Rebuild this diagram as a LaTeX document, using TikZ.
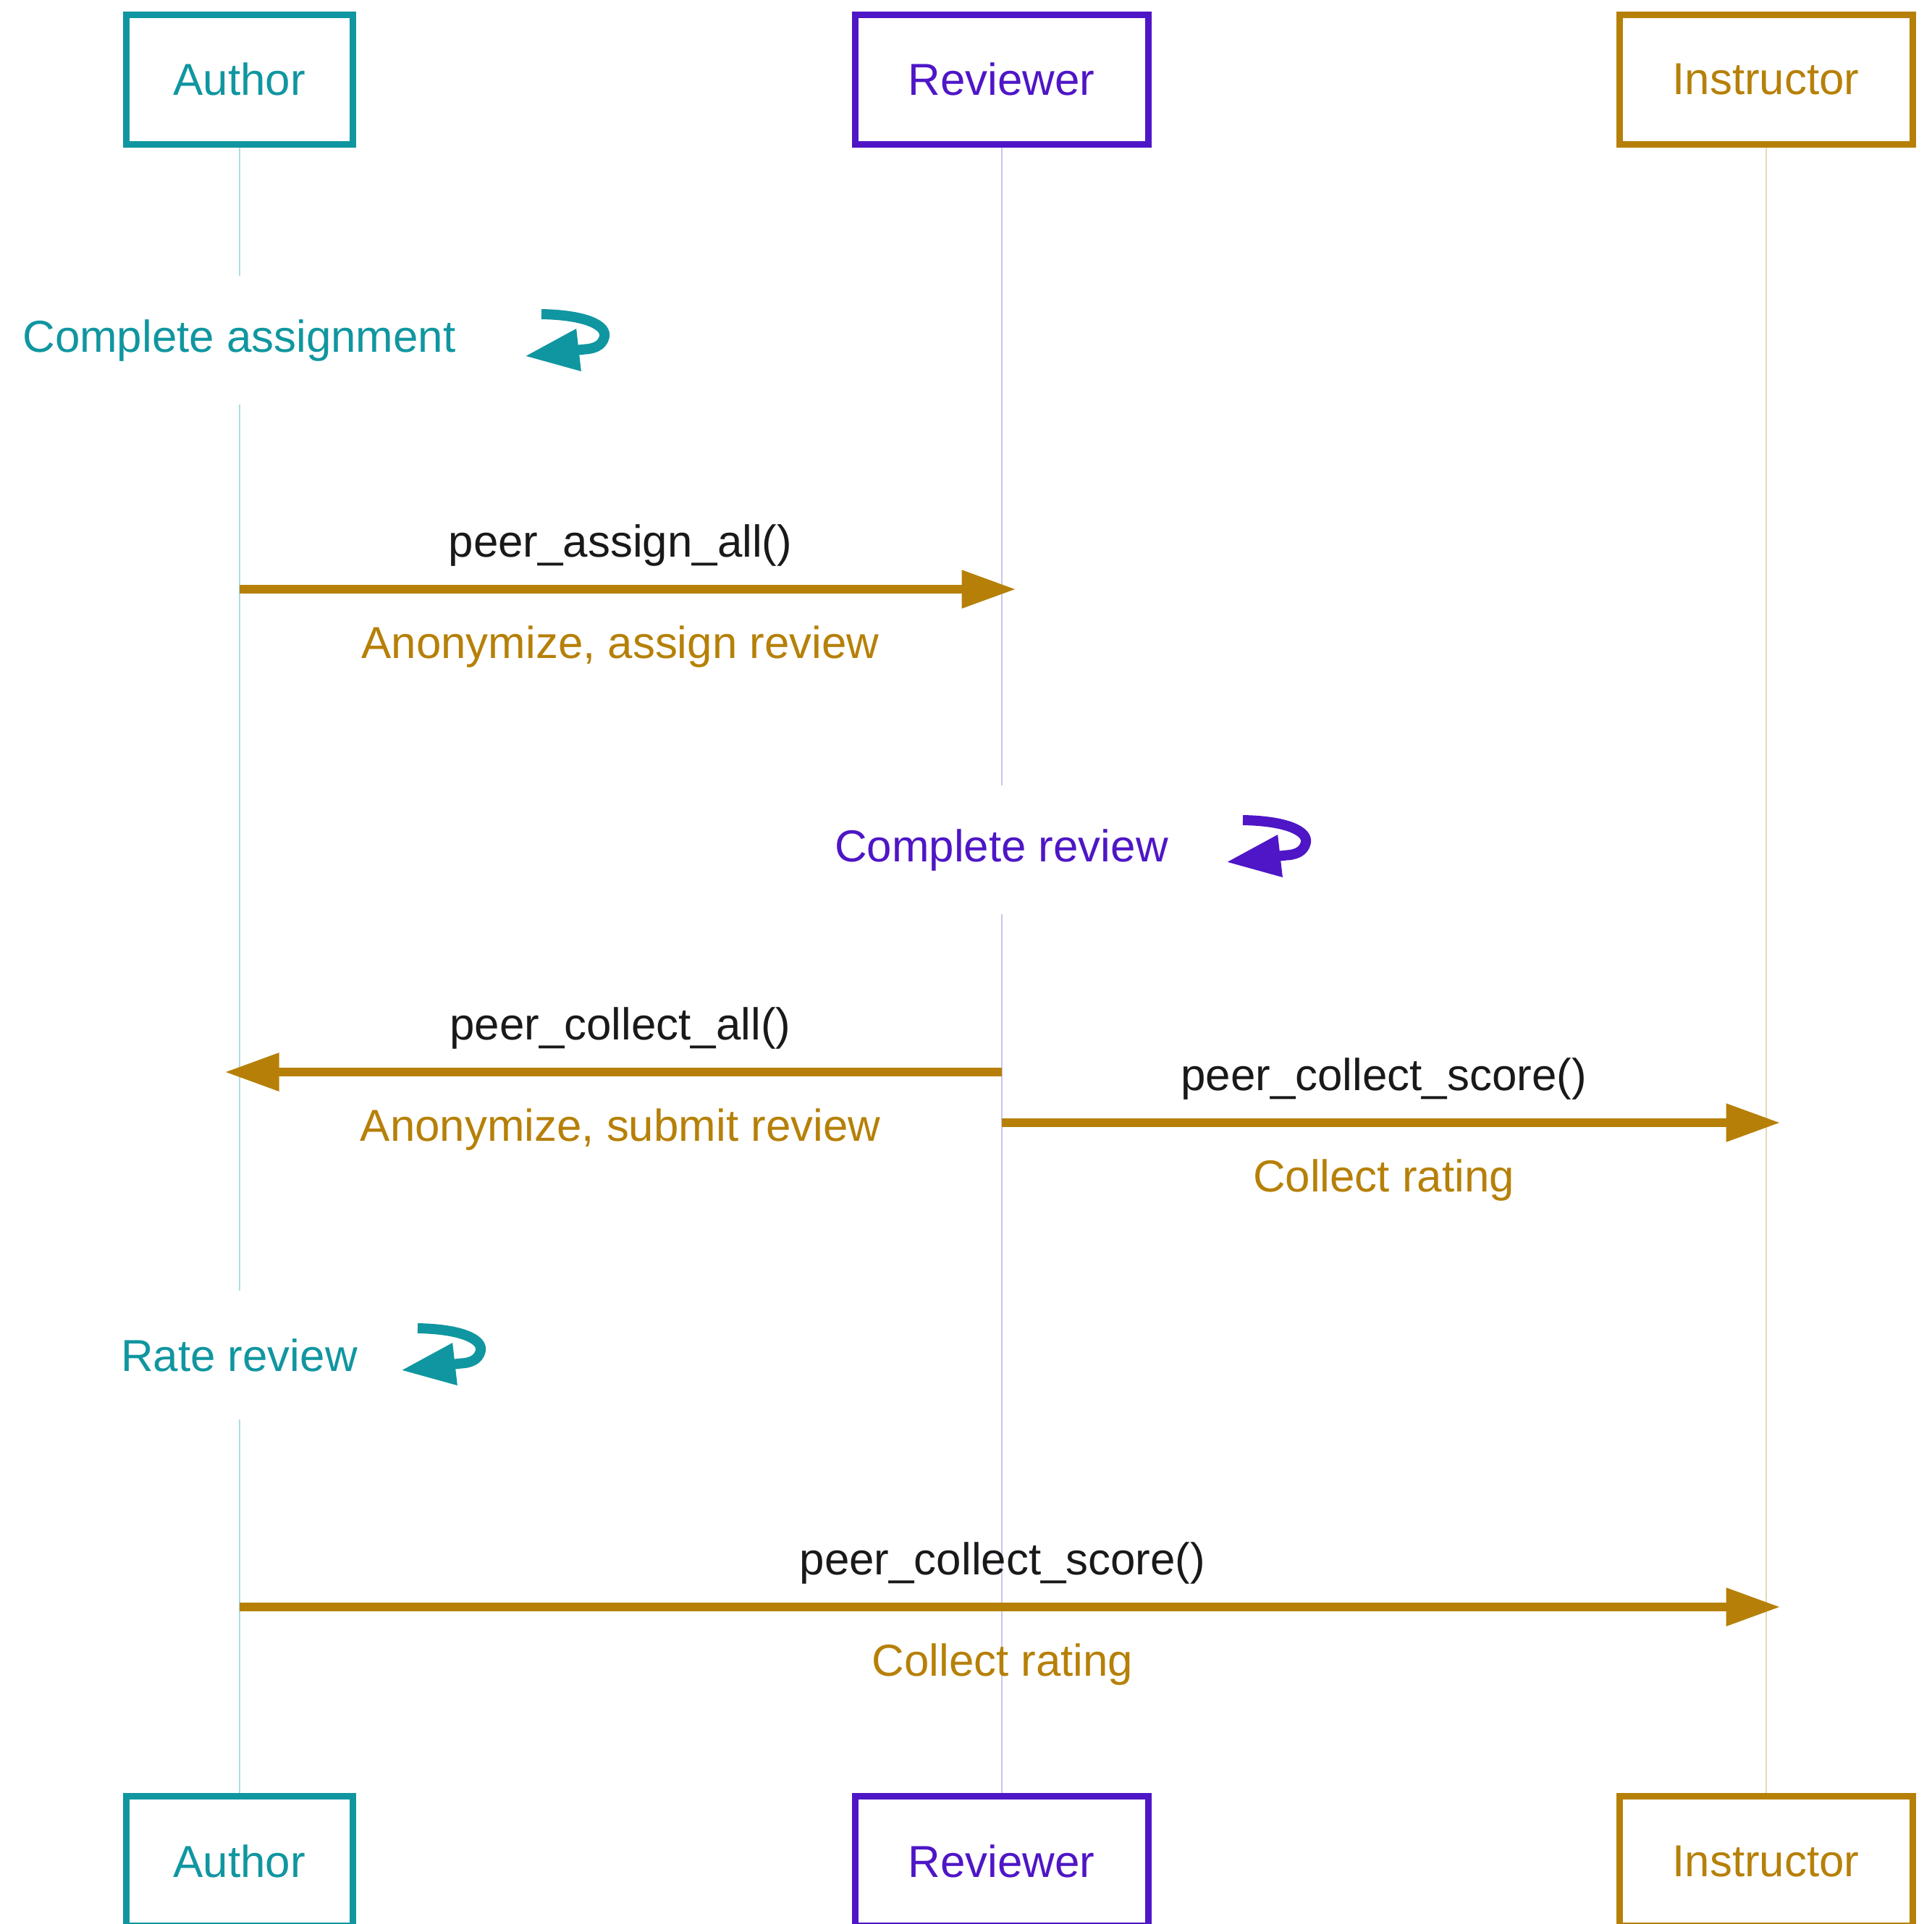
\documentclass[tikz,border=0pt]{standalone}
\usepackage{fontspec}
\setmainfont{Liberation Sans}
\usetikzlibrary{arrows.meta,positioning}
\definecolor{authorcol}{RGB}{16,150,160}
\definecolor{reviewcol}{RGB}{78,22,198}
\definecolor{instrcol}{RGB}{182,128,8}
\definecolor{authorlite}{RGB}{172,222,228}
\definecolor{reviewlite}{RGB}{205,195,238}
\definecolor{instrlite}{RGB}{228,218,180}

\begin{document}
\begin{tikzpicture}[
font=\fontsize{17.6}{21}\selectfont,
actor/.style={draw=#1, text=#1, line width=0.09cm, minimum width=4.05cm, minimum height=1.79cm, inner sep=0pt},
lifeline/.style={draw=#1, line width=0.02cm},
selfnote/.style={fill=white, text=#1, minimum height=1.78cm, inner xsep=3pt},
msg/.style={draw=instrcol, line width=0.12cm, -{Triangle[length=0.75cm,width=0.5cm]}, shorten >=-0.2cm},
call/.style={text=black!90, yshift=0.61cm},
note/.style={text=instrcol, yshift=-0.79cm},
looparrow/.pic={\draw[line width=0.14cm, line join=round, -{Triangle[length=0.75cm,width=0.55cm]}]
  (0.2,-0.05) .. controls (0.8,-0.06) and (1.1,-0.2) .. (1.07,-0.36)
  .. controls (1.04,-0.5) and (0.9,-0.53) .. (0.8,-0.535) -- (-0.03,-0.63);},
]
\useasboundingbox (0,0) rectangle (26.69,-26.57);
%Nodes
\node[actor=authorcol, minimum width=3.13cm] (authorTop) at (3.305,-1.095) {Author};
\node[actor=reviewcol] (reviewTop) at (13.835,-1.095) {Reviewer};
\node[actor=instrcol]  (instrTop)  at (24.395,-1.095) {Instructor};
\node[actor=authorcol, minimum width=3.13cm] (authorBot) at (3.305,-25.71) {Author};
\node[actor=reviewcol] (reviewBot) at (13.835,-25.71) {Reviewer};
\node[actor=instrcol]  (instrBot)  at (24.395,-25.71) {Instructor};
%Lifelines
\draw[lifeline=authorlite] (authorTop.south) -- (authorBot.north);
\draw[lifeline=reviewlite] (reviewTop.south) -- (reviewBot.north);
\draw[lifeline=instrlite]  (instrTop.south)  -- (instrBot.north);
%Self actions
\node[selfnote=authorcol] (doAssign) at (3.305,-4.70) {Complete assignment};
\pic[color=authorcol] (loopAssign) at (7.28,-4.29) {looparrow};
\node[selfnote=reviewcol] (doReview) at (13.835,-11.74) {Complete review};
\pic[color=reviewcol] (loopReview) at (16.97,-11.28) {looparrow};
\node[selfnote=authorcol] (doRate) at (3.305,-18.72) {Rate review};
\pic[color=authorcol] (loopRate) at (5.57,-18.30) {looparrow};
%Messages
\draw[msg] (authorTop |- 0,-8.14) -- node[call] {peer\_assign\_all()}
  node[note] {Anonymize, assign review} (reviewTop |- 0,-8.14);
\draw[msg] (reviewTop |- 0,-14.81) -- node[call] {peer\_collect\_all()}
  node[note] {Anonymize, submit review} (authorTop |- 0,-14.81);
\draw[msg] (reviewTop |- 0,-15.51) -- node[call] {peer\_collect\_score()}
  node[note] {Collect rating} (instrTop |- 0,-15.51);
\draw[msg] (authorTop |- 0,-22.20) -- node[call] {peer\_collect\_score()}
  node[note] {Collect rating} (instrTop |- 0,-22.20);
\end{tikzpicture}
\end{document}
